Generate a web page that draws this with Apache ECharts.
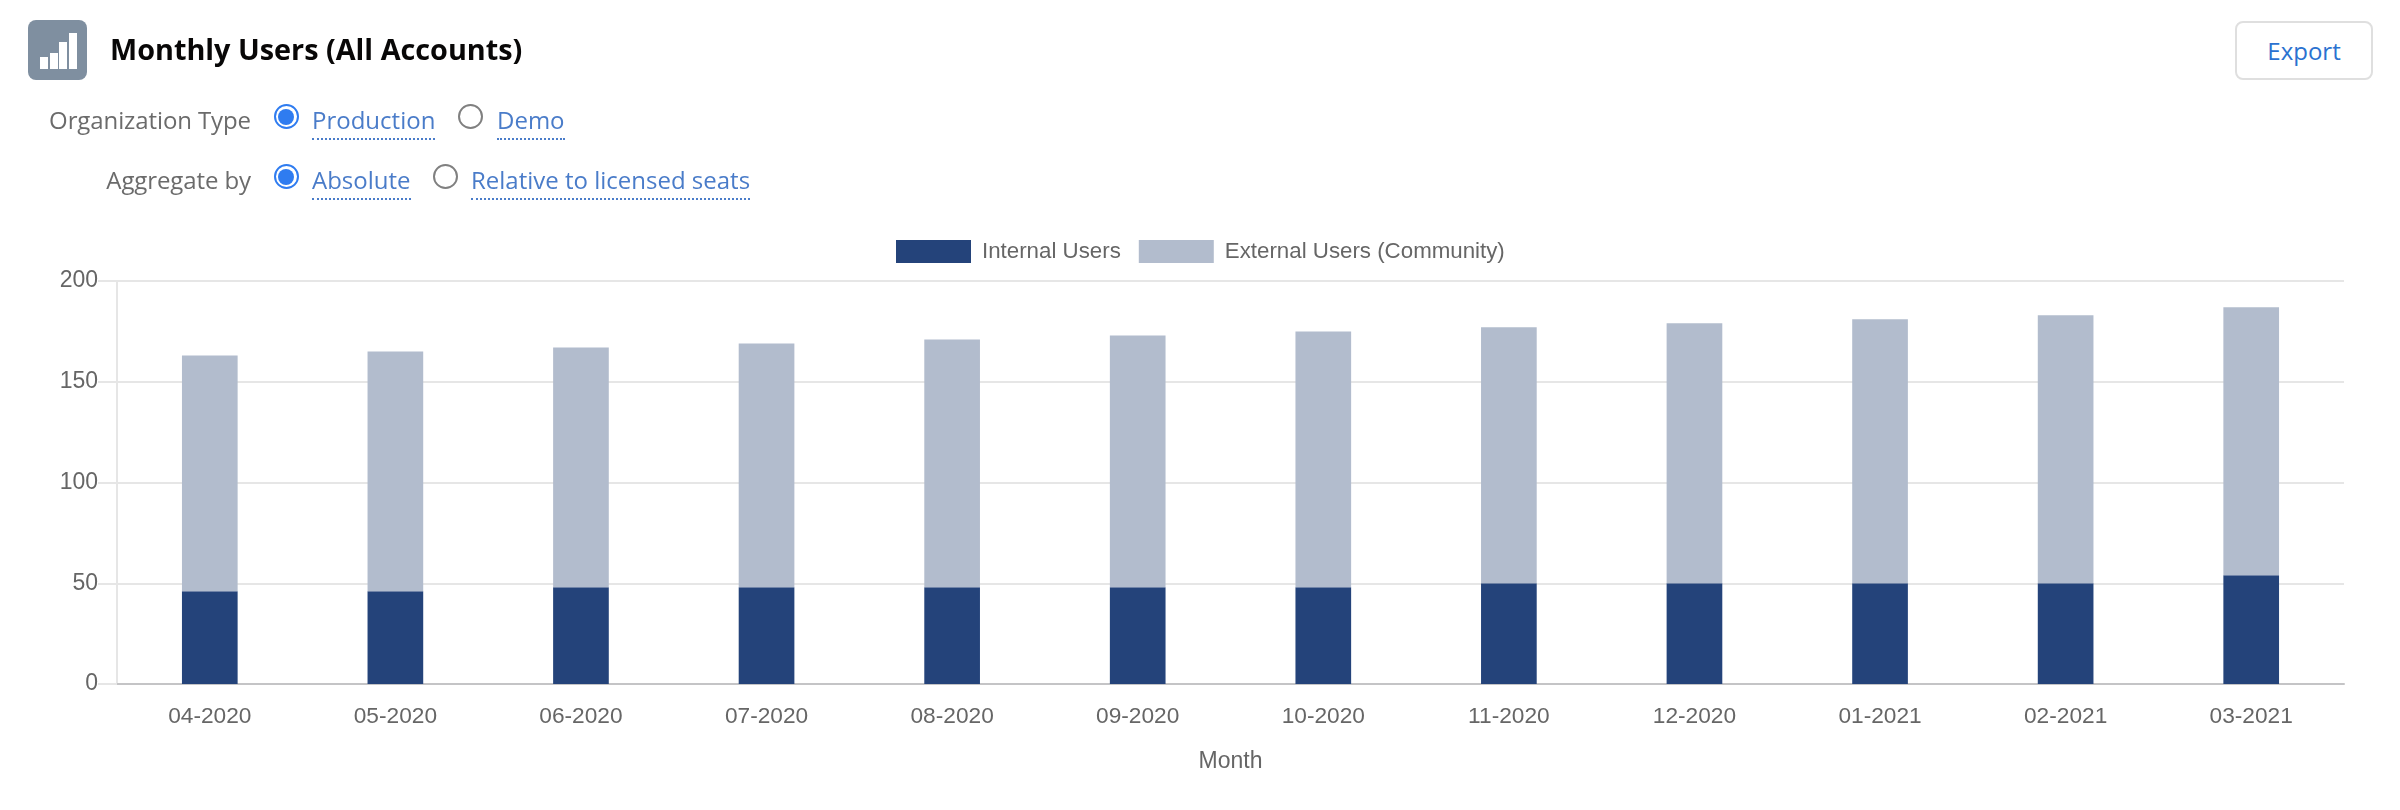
<!DOCTYPE html>
<html>
<head>
<meta charset="utf-8">
<title>Monthly Users</title>
<script src="https://cdn.jsdelivr.net/npm/echarts@6/dist/echarts.min.js"></script>
<style>
    html, body { margin: 0; padding: 0; background: #fff; }
    #page { position: relative; width: 2400px; height: 810px; overflow: hidden; font-family: "Open Sans", sans-serif; }
    #chart { position: absolute; left: 0; top: 0; width: 2400px; height: 810px; }
    .abs { position: absolute; white-space: nowrap; }
    .icon { left: 28px; top: 20px; width: 59px; height: 60px; background: #7f8fa0; border-radius: 8px; }
    .icon i { position: absolute; bottom: 11px; width: 8px; background: #fff; }
    .title { left: 110px; top: 27px; font-size: 28.8px; line-height: 44px; font-weight: 700; color: #080707; }
    .label { font-size: 24px; line-height: 34px; color: #6b6b6b; text-align: right; right: 2149px; letter-spacing: -0.1px; }
    .link { font-size: 24px; line-height: 34px; color: #4a7cc9; border-bottom: 2px dotted #4a7cc9; padding-bottom: 1px; }
    .radio { width: 21px; height: 21px; border: 2px solid #808080; border-radius: 50%; background: #fff; }
    .radio.on { border-color: #2f7cf0; }
    .radio.on:after { content: ""; position: absolute; left: 2.5px; top: 2.5px; width: 16px; height: 16px; border-radius: 50%; background: #2f7cf0; }
    .export { left: 2235px; top: 21px; width: 134px; height: 55px; border: 2px solid #dfdfdf; border-radius: 8px; background: #fff;
        font-size: 24px; line-height: 55px; text-align: center; color: #2b72d0; }
</style>
</head>
<body>
<div id="page">
    <div id="chart"></div>
    <div class="abs icon"><i style="left:12px;height:12px"></i><i style="left:22px;height:16px"></i><i style="left:31px;height:27px"></i><i style="left:41px;height:36px"></i></div>
    <div class="abs title">Monthly Users (All Accounts)</div>
    <div class="abs label" style="top:103px">Organization Type</div>
    <div class="abs radio on" style="left:273.5px;top:104px"></div>
    <div class="abs link" style="left:312px;top:103px">Production</div>
    <div class="abs radio" style="left:457.5px;top:104px"></div>
    <div class="abs link" style="left:497px;top:103px">Demo</div>
    <div class="abs label" style="top:163px">Aggregate by</div>
    <div class="abs radio on" style="left:273.5px;top:164px"></div>
    <div class="abs link" style="left:312px;top:163px">Absolute</div>
    <div class="abs radio" style="left:432.5px;top:164px"></div>
    <div class="abs link" style="left:471px;top:163px">Relative to licensed seats</div>
    <div class="abs export">Export</div>
</div>
<script>
var months = ["04-2020", "05-2020", "06-2020", "07-2020", "08-2020", "09-2020", "10-2020", "11-2020", "12-2020", "01-2021", "02-2021", "03-2021"];
var internalUsers = [46, 46, 48, 48, 48, 48, 48, 50, 50, 50, 50, 54];
var externalUsers = [117, 119, 119, 121, 123, 125, 127, 127, 129, 131, 133, 133];

var chartFont = '"Liberation Sans", Arial, sans-serif';
var myChart = echarts.init(document.getElementById("chart"));
var option = {
    animation: false,
    textStyle: { fontFamily: chartFont },
    legend: {
        left: 896,
        top: 240,
        padding: 0,
        icon: "rect",
        itemWidth: 75,
        itemHeight: 23,
        itemGap: 18,
        itemStyle: { borderWidth: 0 },
        textStyle: { color: "#666", fontSize: 22.3, padding: [0, 0, 0, 6], fontFamily: chartFont },
        data: ["Internal Users", "External Users (Community)"]
    },
    grid: { left: 117, right: 56, top: 281, bottom: 126 },
    xAxis: {
        type: "category",
        data: months,
        name: "Month",
        nameLocation: "middle",
        nameGap: 66,
        nameTextStyle: { color: "#666", fontSize: 23 },
        axisTick: { show: false },
        axisLine: { lineStyle: { color: "#c4c4c6", width: 2 } },
        axisLabel: { color: "#666", fontSize: 22.7, margin: 21 }
    },
    yAxis: {
        type: "value",
        min: 0,
        max: 200,
        interval: 50,
        axisLine: { show: true, lineStyle: { color: "#e6e6e6", width: 2 } },
        axisTick: { show: true, length: 19, lineStyle: { color: "#e6e6e6", width: 2 } },
        axisLabel: { color: "#666", fontSize: 23, margin: 19, padding: [6, 0, 0, 0] },
        splitLine: { lineStyle: { color: "#e6e6e6", width: 2 } }
    },
    series: [
        {
            name: "Internal Users",
            type: "bar",
            stack: "users",
            barWidth: "30%",
            itemStyle: { color: "#24437a" },
            data: internalUsers
        },
        {
            name: "External Users (Community)",
            type: "bar",
            stack: "users",
            barWidth: "30%",
            itemStyle: { color: "#b2bccd" },
            data: externalUsers
        }
    ]
};
myChart.setOption(option);
</script>
</body>
</html>
